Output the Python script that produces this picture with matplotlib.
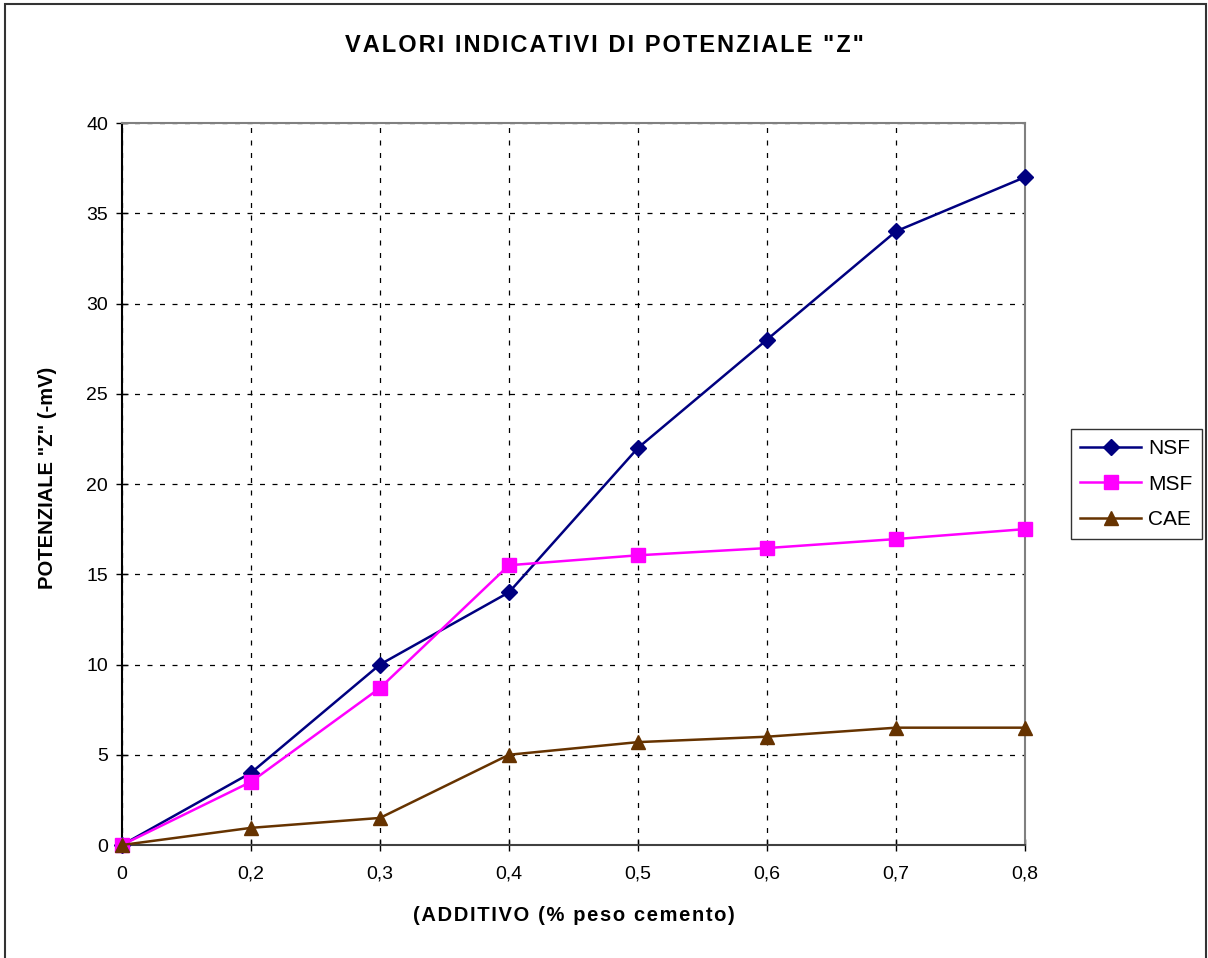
import matplotlib
matplotlib.use('Agg')

import numpy as np
import matplotlib.pyplot as plt
from matplotlib.patches import Rectangle

plt.rcParams['font.family'] = ['Liberation Sans', 'DejaVu Sans']

# data
x_labels = ['0', '0,2', '0,3', '0,4', '0,5', '0,6', '0,7', '0,8']
nsf = [0, 4, 10, 14, 22, 28, 34, 37]
msf = [0, 3.5, 8.7, 15.5, 16.05, 16.45, 16.95, 17.5]
cae = [0, 0.95, 1.5, 5, 5.7, 6, 6.5, 6.5]

title = 'VALORI INDICATIVI DI POTENZIALE "Z"'
xlabel = '(ADDITIVO (% peso cemento)'
ylabel = 'POTENZIALE "Z" (-mV)'


def spaced(s):
    # the original title has wide letter spacing
    return '\u200a'.join(s)


x = np.arange(len(x_labels))

fig = plt.figure(figsize=(12.08, 9.58), dpi=100)
ax = fig.add_axes([122/1208, 113/958, 903/1208, 722/958])

ax.plot(x, nsf, color='#000080', marker='D', markersize=8, linewidth=1.8, label='NSF', clip_on=False, zorder=3)
ax.plot(x, msf, color='#FF00FF', marker='s', markersize=10, linewidth=1.8, label='MSF', clip_on=False, zorder=3)
ax.plot(x, cae, color='#663300', marker='^', markersize=10, linewidth=1.8, label='CAE', clip_on=False, zorder=3)

ax.set_xlim(0, 7)
ax.set_ylim(0, 40)
ax.set_xticks(x)
ax.set_xticklabels(x_labels)
ax.set_yticks(np.arange(0, 41, 5))
ax.tick_params(direction='inout', length=8, width=1, labelsize=14)
ax.tick_params(axis='x', pad=11)
ax.tick_params(axis='y', pad=6)
ax.grid(True, color='black', linestyle=(0, (4, 6)), linewidth=0.9)

for s in ['top', 'right']:
    ax.spines[s].set_color('#808080')
    ax.spines[s].set_linewidth(1.5)
for s in ['left', 'bottom']:
    ax.spines[s].set_color('black')
    ax.spines[s].set_linewidth(1.5)
ax.spines['bottom'].set_color('#404040')

ax.set_xlabel(spaced(xlabel), fontsize=14.5, fontweight='bold', labelpad=17)
ax.set_ylabel(ylabel, fontsize=14.5, fontweight='bold')
ax.yaxis.set_label_coords(-65/903, 0.508)
fig.text(0.5, 0.953, spaced(title), ha='center', va='center',
         fontsize=17, fontweight='bold')

leg = ax.legend(loc='center left', bbox_to_anchor=(949/903, 0.5), borderaxespad=0,
                frameon=True, fancybox=False, edgecolor='black', fontsize=15,
                handlelength=2.9, borderpad=0.45, labelspacing=0.8, handletextpad=0.35)
leg.get_frame().set_linewidth(1.0)

# outer chart border
fig.patches.append(Rectangle((5/1208, -0.01), 1201/1208, 1 - 4/958 + 0.01, transform=fig.transFigure,
                             fill=False, edgecolor='#333333', linewidth=1.5))

plt.savefig('out.png')
